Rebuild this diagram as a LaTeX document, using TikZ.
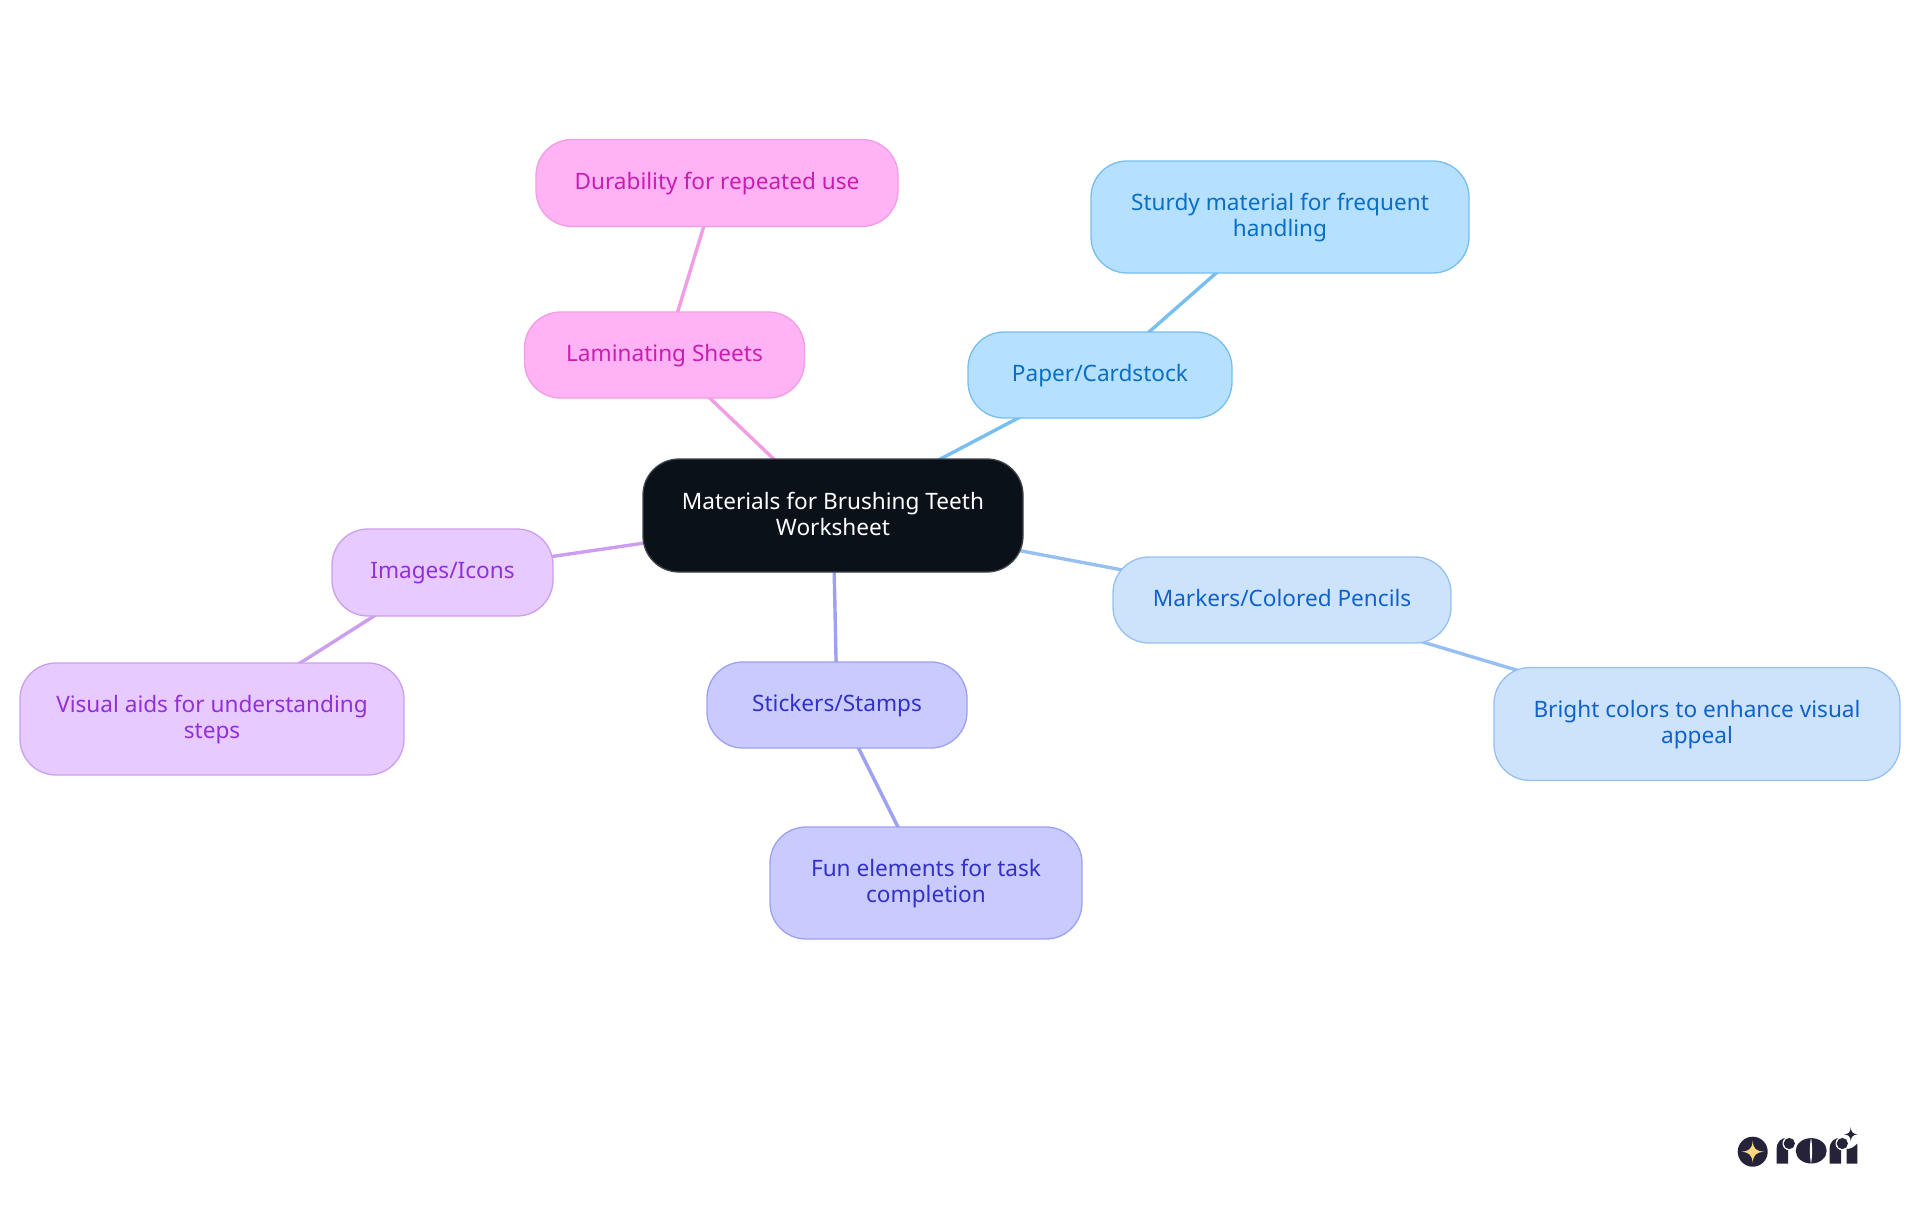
\documentclass[tikz,border=0pt]{standalone}
\usepackage{fontspec}
\setmainfont{Noto Sans}
\usetikzlibrary{backgrounds}
\definecolor{rootfill}{HTML}{0B1119}
\definecolor{rootline}{HTML}{3F444A}
\definecolor{skyfill}{HTML}{B5E0FF}
\definecolor{skyline}{HTML}{78BEF0}
\definecolor{skytext}{HTML}{0A6FC2}
\definecolor{bluefill}{HTML}{CDE3FC}
\definecolor{blueline}{HTML}{96C0F2}
\definecolor{bluetext}{HTML}{0F62CC}
\definecolor{indigofill}{HTML}{C9CBFF}
\definecolor{indigoline}{HTML}{9EA1F2}
\definecolor{indigotext}{HTML}{3230C8}
\definecolor{purplefill}{HTML}{E7CAFF}
\definecolor{purpleline}{HTML}{CD9EF0}
\definecolor{purpletext}{HTML}{9130D8}
\definecolor{pinkfill}{HTML}{FFB3F5}
\definecolor{pinkline}{HTML}{F39CE6}
\definecolor{pinktext}{HTML}{C81EB0}
\definecolor{logodark}{HTML}{24233A}
\definecolor{logostar}{HTML}{F9D77E}
\newcommand{\tline}{\rule[-6pt]{0pt}{24pt}}
\newcommand{\tlast}{\rule[-3.6pt]{0pt}{21.6pt}}
\begin{document}
\begin{tikzpicture}[x=1pt, y=-1pt,
    main/.style = {draw, rounded corners=36pt, line width=1.3pt, inner sep=0pt, align=center,
        font=\fontsize{22.6}{25.5}\selectfont},
    rootnode/.style = {main, fill=rootfill, draw=rootline, text=white},
    sky/.style = {main, fill=skyfill, draw=skyline, text=skytext},
    blue/.style = {main, fill=bluefill, draw=blueline, text=bluetext},
    indigo/.style = {main, fill=indigofill, draw=indigoline, text=indigotext},
    purple/.style = {main, fill=purplefill, draw=purpleline, text=purpletext},
    pink/.style = {main, fill=pinkfill, draw=pinkline, text=pinktext},
    link/.style = {line width=3.4pt}]
    \useasboundingbox (0,0) rectangle (1920,1215);
    \node[rootnode, minimum width=380pt, minimum height=113pt] (root) at (833,515.5) {\tline Materials for Brushing Teeth\\\tlast Worksheet};
    \node[sky, minimum width=264pt, minimum height=86pt] (paper) at (1100,375) {\tline Paper/Cardstock};
    \node[sky, minimum width=378pt, minimum height=112pt] (sturdy) at (1280,217) {\tline Sturdy material for frequent\\\tlast handling};
    \node[blue, minimum width=338pt, minimum height=86pt] (markers) at (1282,600) {\tline Markers/Colored Pencils};
    \node[blue, minimum width=406pt, minimum height=113pt] (bright) at (1697,724) {\tline Bright colors to enhance visual\\\tlast appeal};
    \node[indigo, minimum width=260pt, minimum height=86pt] (stickers) at (837,705) {\tline Stickers/Stamps};
    \node[indigo, minimum width=312pt, minimum height=112pt] (fun) at (926,883) {\tline Fun elements for task\\\tlast completion};
    \node[purple, minimum width=221pt, minimum height=87pt] (images) at (442.5,572.5) {\tline Images/Icons};
    \node[purple, minimum width=384pt, minimum height=112pt] (visual) at (212,719) {\tline Visual aids for understanding\\\tlast steps};
    \node[pink, minimum width=280pt, minimum height=86pt] (laminating) at (664.5,355) {\tline Laminating Sheets};
    \node[pink, minimum width=362pt, minimum height=87pt] (durability) at (717,183) {\tline Durability for repeated use};
    \begin{scope}[on background layer]
        \draw[link, skyline] (root.center) -- (paper.center);
        \draw[link, skyline] (paper.center) -- (sturdy.center);
        \draw[link, blueline] (root.center) -- (markers.center);
        \draw[link, blueline] (markers.center) -- (bright.center);
        \draw[link, indigoline] (root.center) -- (stickers.center);
        \draw[link, indigoline] (stickers.center) -- (fun.center);
        \draw[link, purpleline] (root.center) -- (images.center);
        \draw[link, purpleline] (images.center) -- (visual.center);
        \draw[link, pinkline] (root.center) -- (laminating.center);
        \draw[link, pinkline] (laminating.center) -- (durability.center);
    \end{scope}
    % logo
    \fill[logodark] (1752.7,1151.7) circle (15);
    \fill[logostar] (1741.5,1151.7) .. controls (1749,1151) and (1752,1149) .. (1752.7,1141)
        .. controls (1753.4,1149) and (1756,1151) .. (1764,1151.7)
        .. controls (1756,1152.4) and (1753.4,1155) .. (1752.7,1162.5)
        .. controls (1752,1155) and (1749,1152.4) .. (1741.5,1151.7) -- cycle;
    \foreach \xr in {0, 53} {
        \begin{scope}[xshift=\xr pt]
            \fill[logodark] (1776.5,1163.5) -- (1776.5,1149) .. controls (1776.5,1142) and (1781,1137.7) .. (1788,1137.7)
                -- (1788,1163.5) -- cycle;
            \fill[white] (1789.3,1143.5) circle (6.8);
            \fill[logodark] (1789.3,1143.5) circle (5.6);
        \end{scope}
    }
    \fill[logodark] (1811.2,1150.8) ellipse (15.5 and 12.7);
    \fill[white] (1811,1137.5) .. controls (1809.5,1146) and (1809.5,1155) .. (1811,1164)
        .. controls (1812.5,1155) and (1812.5,1146) .. (1811,1137.5) -- cycle;
    \fill[logodark] (1846.7,1163.5) -- (1846.7,1149) .. controls (1851,1149) and (1854,1147) .. (1857.3,1143.5) -- (1857.3,1163.5) -- cycle;
    \fill[logodark] (1844,1134.3) .. controls (1849,1134) and (1850.4,1132) .. (1850.7,1127.3)
        .. controls (1851,1132) and (1853,1134) .. (1857.5,1134.3)
        .. controls (1853,1134.6) and (1851,1137) .. (1850.7,1141.3)
        .. controls (1850.4,1137) and (1849,1134.6) .. (1844,1134.3) -- cycle;
\end{tikzpicture}
\end{document}
